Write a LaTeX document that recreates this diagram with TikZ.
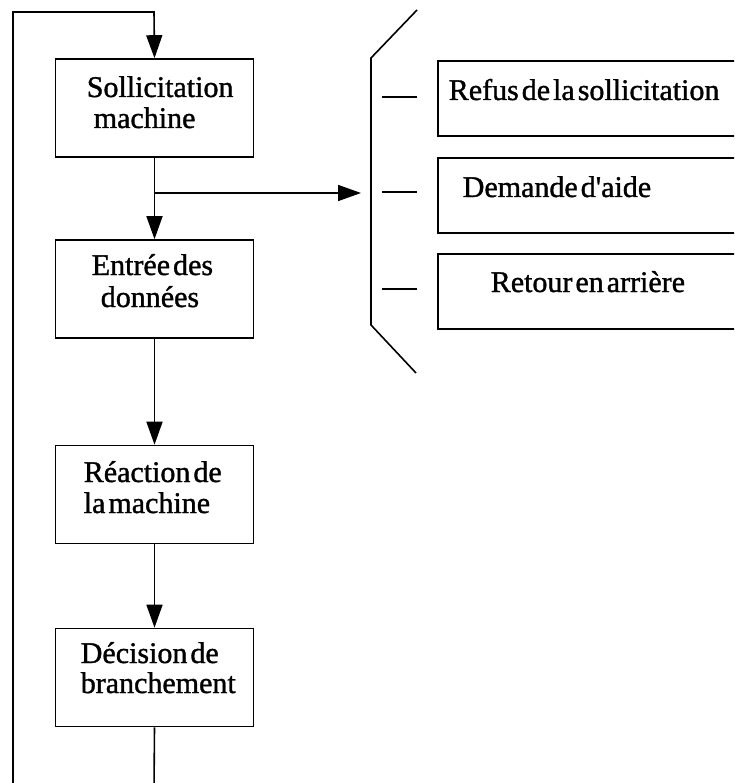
\documentclass[tikz,border=0pt]{standalone}
\usepackage{fontspec}
\setmainfont{Liberation Serif}
\newfontfamily\printface[FakeBold=1.2]{Liberation Serif}
\usetikzlibrary{arrows.meta}
\begin{document}
\begin{tikzpicture}[x=1pt,y=-1pt,
  line width=1.6pt,
  stage/.style={draw, rectangle, inner sep=0pt, line width=1.6pt,
    minimum width=198pt, minimum height=98pt},
  option/.style={draw, rectangle, inner sep=0pt, line width=1.6pt,
    minimum width=320pt, minimum height=75pt, anchor=north west},
  lbl/.style={inner sep=0pt, anchor=base west,
    font=\printface\fontsize{30}{32}\selectfont,
    execute at begin node={\spaceskip=0.1em\relax}},
  arr/.style={-{Triangle[length=23pt,width=16pt]}}
]
\useasboundingbox (0,0) rectangle (734,783);
\clip (0,0) rectangle (734,783);

% main sequence of stages
\node[stage] (s1) at (154.5,108) {};
\node[stage] (s2) at (154.5,289) {};
\node[stage] (s3) at (154.5,494.5) {};
\node[stage] (s4) at (154.5,677.5) {};

\node[lbl] (s1a) at (86,97)  {Sollicitation};
\node[lbl] (s1b) at (93,128) {machine};
\node[lbl] (s2a) at (91,275) {Entrée des};
\node[lbl] (s2b) at (100,307) {données};
\node[lbl] (s3a) at (83,482) {Réaction de};
\node[lbl] (s3b) at (83,513) {la machine};
\node[lbl] (s4a) at (80,663) {Décision de};
\node[lbl] (s4b) at (80,693) {branchement};

% possible answers, open on the right
\node[option] (o1) at (437,60)  {};
\node[option] (o2) at (437,157) {};
\node[option] (o3) at (437,253) {};

\node[lbl] (o1t) at (448,100) {Refus de la sollicitation};
\node[lbl] (o2t) at (462,197) {Demande d'aide};
\node[lbl] (o3t) at (490,292) {Retour en arrière};

% loop back to the start
\coordinate (lb) at (154,790);
\coordinate (ll) at (13,790);
\coordinate (lt) at (13,12);
\coordinate (ct) at (154,12);
\draw (s4.south) -- (lb);
\draw[arr] (ll) -- (lt) -- (ct) -- (s1.north);

% forward arrows
\draw[arr] (s1.south) -- (s2.north);
\draw[arr] (s2.south) -- (s3.north);
\draw[arr] (s3.south) -- (s4.north);

% branch towards the options
\coordinate (br) at (154,193);
\coordinate (bk) at (361,193);
\draw[arr] (br) -- (bk);

% bracket grouping the options
\draw (417,10) -- (371,58) -- (371,325) -- (416,373);
\draw (382,97) -- (417,97);
\draw (382,192) -- (417,192);
\draw (382,289) -- (417,289);
\end{tikzpicture}
\end{document}
